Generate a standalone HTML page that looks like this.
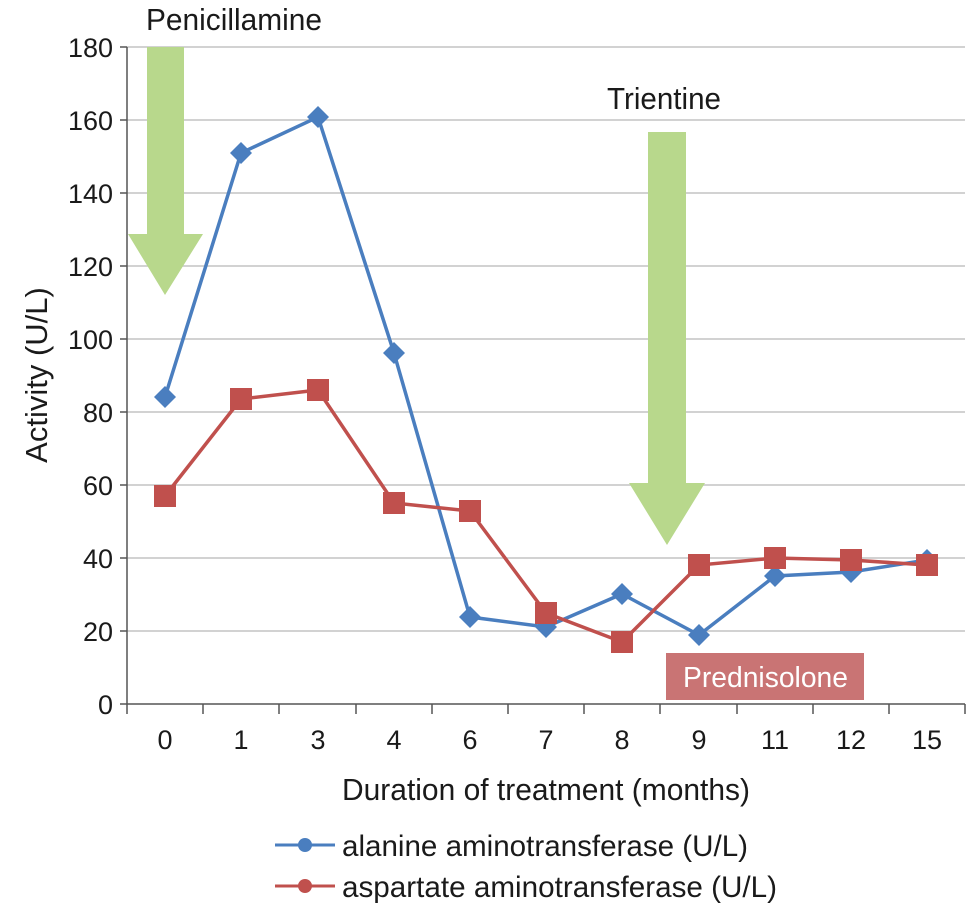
<!DOCTYPE html>
<html><head><meta charset="utf-8"><style>
body{margin:0;background:#fff}
svg text{font-family:"Liberation Sans Narrow","Liberation Sans",sans-serif;fill:#1a1a1a}
</style></head><body>
<svg width="980" height="909" viewBox="0 0 980 909" xmlns="http://www.w3.org/2000/svg">
<g stroke="#c4c4c4" stroke-width="1.5">
<line x1="127" y1="47" x2="965" y2="47"/><line x1="127" y1="120" x2="965" y2="120"/>
<line x1="127" y1="193" x2="965" y2="193"/><line x1="127" y1="266" x2="965" y2="266"/>
<line x1="127" y1="339" x2="965" y2="339"/><line x1="127" y1="412" x2="965" y2="412"/>
<line x1="127" y1="485" x2="965" y2="485"/><line x1="127" y1="558" x2="965" y2="558"/>
<line x1="127" y1="631" x2="965" y2="631"/>
</g>
<g stroke="#555" stroke-width="1.5">
<line x1="127" y1="47" x2="127" y2="704"/><line x1="127" y1="704" x2="965" y2="704"/>
<line x1="120" y1="47" x2="127" y2="47"/><line x1="120" y1="120" x2="127" y2="120"/><line x1="120" y1="193" x2="127" y2="193"/><line x1="120" y1="266" x2="127" y2="266"/><line x1="120" y1="339" x2="127" y2="339"/><line x1="120" y1="412" x2="127" y2="412"/><line x1="120" y1="485" x2="127" y2="485"/><line x1="120" y1="558" x2="127" y2="558"/><line x1="120" y1="631" x2="127" y2="631"/><line x1="120" y1="704" x2="127" y2="704"/>
<line x1="127" y1="704" x2="127" y2="714"/><line x1="203" y1="704" x2="203" y2="714"/><line x1="279" y1="704" x2="279" y2="714"/><line x1="356" y1="704" x2="356" y2="714"/><line x1="432" y1="704" x2="432" y2="714"/><line x1="508" y1="704" x2="508" y2="714"/><line x1="584" y1="704" x2="584" y2="714"/><line x1="660" y1="704" x2="660" y2="714"/><line x1="737" y1="704" x2="737" y2="714"/><line x1="813" y1="704" x2="813" y2="714"/><line x1="889" y1="704" x2="889" y2="714"/><line x1="965" y1="704" x2="965" y2="714"/>
</g>
<g font-size="27" text-anchor="end">
<text x="113" y="57">180</text><text x="113" y="130">160</text><text x="113" y="203">140</text><text x="113" y="276">120</text><text x="113" y="349">100</text><text x="113" y="422">80</text><text x="113" y="495">60</text><text x="113" y="568">40</text><text x="113" y="641">20</text><text x="113" y="714">0</text>
</g>
<g font-size="27" text-anchor="middle">
<text x="165" y="749">0</text><text x="241" y="749">1</text><text x="318" y="749">3</text><text x="394" y="749">4</text><text x="470" y="749">6</text><text x="546" y="749">7</text><text x="622" y="749">8</text><text x="699" y="749">9</text><text x="775" y="749">11</text><text x="851" y="749">12</text><text x="927" y="749">15</text>
</g>
<text x="342" y="800" font-size="31" textLength="408" lengthAdjust="spacingAndGlyphs">Duration of treatment (months)</text>
<text transform="translate(47,375) rotate(-90)" font-size="31" text-anchor="middle">Activity (U/L)</text>
<polygon points="147,47 184,47 184,234 203,234 165,295 128,234 147,234" fill="#b8d88c"/>
<polygon points="648,132 686,132 686,483 705,483 667,545 629,483 648,483" fill="#b8d88c"/>
<text x="146" y="30" font-size="31" textLength="176" lengthAdjust="spacingAndGlyphs">Penicillamine</text>
<text x="607" y="109" font-size="31" textLength="114" lengthAdjust="spacingAndGlyphs">Trientine</text>
<rect x="666" y="653" width="198" height="47" fill="#c97474"/>
<text x="683" y="687" font-size="29" textLength="165" lengthAdjust="spacingAndGlyphs" style="fill:#fff">Prednisolone</text>
<polyline fill="none" stroke="#4a7ebf" stroke-width="3.5" points="165,397 241,153 318,117 394,353 470,617 546,627 622,594 699,635 775,576 851,572 927,560"/>
<g fill="#4a7ebf">
<polygon points="165,386 176,397 165,408 154,397"/><polygon points="241,142 252,153 241,164 230,153"/><polygon points="318,106 329,117 318,128 307,117"/><polygon points="394,342 405,353 394,364 383,353"/><polygon points="470,606 481,617 470,628 459,617"/><polygon points="546,616 557,627 546,638 535,627"/><polygon points="622,583 633,594 622,605 611,594"/><polygon points="699,624 710,635 699,646 688,635"/><polygon points="775,565 786,576 775,587 764,576"/><polygon points="851,561 862,572 851,583 840,572"/><polygon points="927,549 938,560 927,571 916,560"/>
</g>
<polyline fill="none" stroke="#c0504d" stroke-width="3.5" points="165,496 241,399 318,390 394,503 470,511 546,613 622,642 699,565 775,558 851,560 927,565"/>
<g fill="#c0504d">
<rect x="154" y="485" width="22" height="22"/><rect x="230" y="388" width="22" height="22"/><rect x="307" y="379" width="22" height="22"/><rect x="383" y="492" width="22" height="22"/><rect x="459" y="500" width="22" height="22"/><rect x="535" y="602" width="22" height="22"/><rect x="611" y="631" width="22" height="22"/><rect x="688" y="554" width="22" height="22"/><rect x="764" y="547" width="22" height="22"/><rect x="840" y="549" width="22" height="22"/><rect x="916" y="554" width="22" height="22"/>
</g>
<line x1="275" y1="845" x2="335" y2="845" stroke="#4a7ebf" stroke-width="3"/>
<circle cx="305" cy="845" r="7" fill="#4a7ebf"/>
<text x="342" y="856" font-size="30" textLength="406" lengthAdjust="spacingAndGlyphs">alanine aminotransferase (U/L)</text>
<line x1="275" y1="886" x2="335" y2="886" stroke="#c0504d" stroke-width="3"/>
<circle cx="305" cy="886" r="7" fill="#c0504d"/>
<text x="342" y="897" font-size="30" textLength="435" lengthAdjust="spacingAndGlyphs">aspartate aminotransferase (U/L)</text>
</svg>
</body></html>
